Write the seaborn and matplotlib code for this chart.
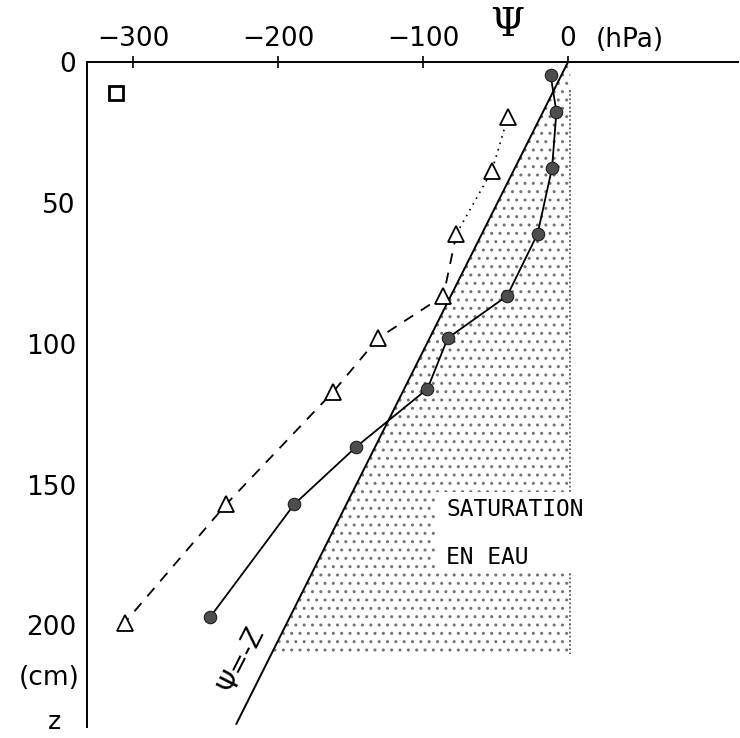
import numpy as np
import pandas as pd
import matplotlib
matplotlib.use("Agg")
import matplotlib.pyplot as plt
import matplotlib.transforms as mtransforms
from matplotlib.patches import Rectangle
import seaborn as sns

# soil water potential profiles (psi in hPa, depth z in cm)
z_circles = [4.6, 17.7, 37.6, 61, 83, 98, 116, 136.5, 157, 197]
psi_circles = [-12, -8, -11, -21, -42, -83, -97, -146, -189, -247]

z_triangles = [19.5, 38.6, 61, 83, 98, 117, 157, 199]
psi_triangles = [-41.5, -52.5, -77, -86, -131, -162, -236, -306]

# hydrostatic line psi = -z
z_line = [0, 235]
psi_line = [0, -229]

# saturated zone (right of the line, down to 210 cm)
z_sat = [0, 210, 210, 0]
psi_sat = [0, -204, 1.5, 1.5]

xticks = [-300, -200, -100, 0]
yticks = [0, 50, 100, 150, 200]

sns.set_style("white")
plt.rcParams['font.family'] = ['DejaVu Sans']
plt.rcParams['text.color'] = 'black'
plt.rcParams['xtick.color'] = 'black'
plt.rcParams['ytick.color'] = 'black'
plt.rcParams['hatch.linewidth'] = 1.0

fig = plt.figure(figsize=(7.4, 7.38), dpi=100)
ax = fig.add_axes([0.1176, 0.015, 0.88, 0.901])

# stippled saturated area
ax.fill(psi_sat, z_sat, facecolor='white', edgecolor='0.45', hatch='..',
        linewidth=0, zorder=1)
ax.plot([1.5, 1.5], [10, 210], color='0.3', linestyle=(0, (1, 1.5)), lw=1.2, zorder=2)

# white label box
ax.add_patch(Rectangle((-92, 152.5), 110, 28.5, facecolor='white', edgecolor='none', zorder=3))
ax.text(-84, 159, "SATURATION", family='DejaVu Sans Mono', fontsize=16.5, va='center', zorder=4)
ax.text(-84, 176, "EN EAU", family='DejaVu Sans Mono', fontsize=16.5, va='center', zorder=4)

# psi = -z line
sns.lineplot(x=psi_line, y=z_line, sort=False, estimator=None, color='black', lw=1.4, ax=ax, zorder=5)

# circle profile
circ = pd.DataFrame({'psi': psi_circles, 'z': z_circles})
sns.lineplot(data=circ, x='psi', y='z', sort=False, estimator=None, color='black', lw=1.3,
             marker='o', markersize=9, markerfacecolor='0.3', markeredgecolor='0.1',
             ax=ax, zorder=6)

# triangle profile: dotted near surface, dashed below
tri = pd.DataFrame({'psi': psi_triangles, 'z': z_triangles})
sns.lineplot(data=tri.iloc[:3], x='psi', y='z', sort=False, estimator=None, color='black',
             lw=1.2, linestyle=(0, (1, 3)), ax=ax, zorder=6)
sns.lineplot(data=tri.iloc[2:], x='psi', y='z', sort=False, estimator=None, color='black',
             lw=1.3, linestyle=(0, (6, 5)), ax=ax, zorder=6)
ax.plot(psi_triangles, z_triangles, linestyle='none', marker='^', markersize=11,
        markerfacecolor='white', markeredgecolor='black', markeredgewidth=1.3, zorder=7)

# square legend mark
ax.plot([-312], [11], marker='s', markersize=10, markerfacecolor='white',
        markeredgecolor='black', markeredgewidth=2, zorder=7)

ax.text(-225, 212, "Ψ=-Z", rotation=63, fontsize=19, ha='center', va='center',
        rotation_mode='anchor', zorder=7)

ax.set_xlim(-332, 117.5)
ax.set_ylim(236, 0)
ax.xaxis.tick_top()
ax.set_xticks(xticks)
ax.set_yticks(yticks)
ax.set_xticklabels([str(t).replace('-', '\u2212') for t in xticks])
ax.set_yticklabels([str(t) for t in yticks])
ax.tick_params(axis='x', direction='inout', length=8, width=1.2, pad=3, labelsize=19)
ax.tick_params(axis='y', direction='inout', length=6, width=1.2, pad=5, labelsize=19)
ax.set_xlabel("")
ax.set_ylabel("")
for side in ['right', 'bottom']:
    ax.spines[side].set_visible(False)
for side in ['top', 'left']:
    ax.spines[side].set_linewidth(1.4)
    ax.spines[side].set_color('black')

trans = mtransforms.blended_transform_factory(ax.transData, fig.transFigure)
fig.text(0.685, 1 - 25 / 738, "Ψ", fontsize=28, family='DejaVu Serif', ha='center', va='center')
ax.text(43, 1 - 40 / 738, "(hPa)", transform=trans, fontsize=19, ha='center', va='center')
fig.text(0.108, 1 - 678 / 738, "(cm)", fontsize=19, ha='right', va='center')
fig.text(0.074, 1 - 722 / 738, "z", fontsize=18, ha='center', va='center')

fig.savefig("out.png", dpi=100)
